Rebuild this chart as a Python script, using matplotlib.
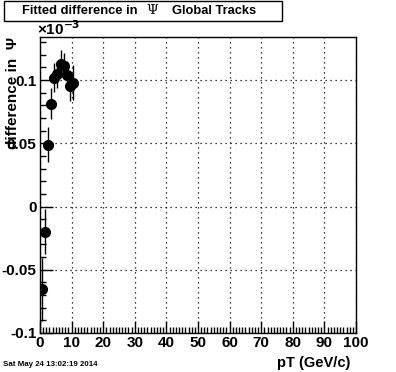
import matplotlib
matplotlib.use("Agg")
import matplotlib.pyplot as plt
from matplotlib.patches import Rectangle
from matplotlib.ticker import MultipleLocator

# values shown in units of 1e-3
pt = [0.5, 1.5, 2.5, 3.5, 4.5, 5.5, 6.5, 7.5, 8.5, 9.5, 10.5]
diff = [-0.0655, -0.0198, 0.0490, 0.0814, 0.1018, 0.1044, 0.1129, 0.1110, 0.1039, 0.0952, 0.0979]
err = [0.0250, 0.0175, 0.0140, 0.0126, 0.0115, 0.0110, 0.0106, 0.0100, 0.0112, 0.0120, 0.0140]

plt.rcParams['font.family'] = ['Liberation Sans', 'DejaVu Sans']
plt.rcParams['font.weight'] = 'bold'

W, H = 396, 372
fig = plt.figure(figsize=(W / 100, H / 100), dpi=100)
ax = fig.add_axes([40 / W, 1 - 333 / H, 316 / W, 296 / H])

ax.errorbar(pt, diff, yerr=err, fmt='o', color='black', ms=7, elinewidth=1, capsize=0)

ax.set_xlim(0, 100)
ax.set_ylim(-0.1, 0.134)
ax.xaxis.set_major_locator(MultipleLocator(10))
ax.xaxis.set_minor_locator(MultipleLocator(1))
ax.yaxis.set_minor_locator(MultipleLocator(0.01))
ax.set_yticks([-0.1, -0.05, 0, 0.05, 0.1])
ax.set_yticklabels(['-0.1', '-0.05', '0', '0.05', '0.1'])
ax.tick_params(which='both', direction='in', top=False, right=False, labelsize=11, width=1)
ax.tick_params(which='major', length=9, pad=2.5)
ax.tick_params(which='minor', length=4.5)
for lab in ax.get_xticklabels() + ax.get_yticklabels():
    lab.set_fontweight('bold')
ax.grid(True, which='major', linestyle=(0, (1, 3)), color='black', linewidth=0.9)
for s in ax.spines.values():
    s.set_linewidth(1)

# title box
fig.patches.append(Rectangle((4 / W, 1 - 21 / H), 278 / W, 20 / H, transform=fig.transFigure,
                             facecolor='white', edgecolor='black', linewidth=1))
fig.text(22 / W, 1 - 11 / H, 'Fitted difference in', fontsize=9.3, fontweight='bold', va='center')
fig.text(152 / W, 1 - 11 / H, '\u03a8', fontsize=9.5, family='DejaVu Serif', fontweight='normal',
         va='center', ha='center')
fig.text(172 / W, 1 - 11 / H, 'Global Tracks', fontsize=9.3, fontweight='bold', va='center')

fig.text(37 / W, 1 - 35 / H, '\u00d710$^{\\mathbf{-3}}$', fontsize=11, fontweight='bold', va='baseline')

fig.text(13 / W, 1 - 37 / H, 'difference in  \u03a8', rotation=90, fontsize=11, fontweight='bold',
         ha='center', va='top')
fig.text(350 / W, 1 - 363 / H, 'pT (GeV/c)', fontsize=10.5, fontweight='bold', ha='right', va='center')
fig.text(3 / W, 1 - 364 / H, 'Sat May 24 13:02:19 2014', fontsize=5.7, fontweight='bold', va='center')

fig.savefig('out.png', dpi=100, facecolor='white')
